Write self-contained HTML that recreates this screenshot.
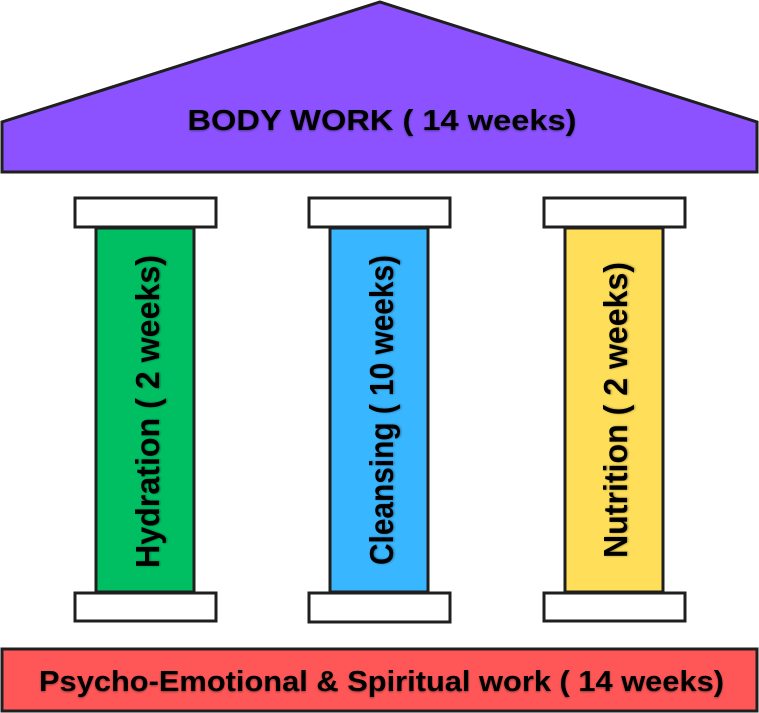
<!DOCTYPE html>
<html><head><meta charset="utf-8"><style>
html,body{margin:0;padding:0;background:#fff;}
svg{display:block;}
text{font-family:"Liberation Sans",Arial,sans-serif;font-weight:bold;fill:#000;}
</style></head><body>
<svg width="759" height="713" viewBox="0 0 759 713" xmlns="http://www.w3.org/2000/svg">
<defs><filter id="sh" x="-10%" y="-10%" width="120%" height="120%"><feGaussianBlur in="SourceAlpha" stdDeviation="1"/><feOffset dx="0" dy="1"/><feComponentTransfer><feFuncA type="linear" slope="0.4"/></feComponentTransfer><feMerge><feMergeNode/><feMergeNode in="SourceGraphic"/></feMerge></filter></defs>
<polygon points="380,2 757,122 757,172 2,172 2,122" fill="#8c52ff" stroke="#1f1f1f" stroke-width="3" stroke-linejoin="miter"/>
<text x="382" y="130" font-size="29" text-anchor="middle" textLength="389" lengthAdjust="spacingAndGlyphs" filter="url(#sh)">BODY WORK ( 14 weeks)</text>

<g stroke="#1f1f1f" stroke-width="3">
<rect x="75" y="198" width="141" height="29" fill="#fff"/>
<rect x="96" y="228" width="98" height="364" fill="#00bf63"/>
<rect x="75" y="593" width="141" height="28" fill="#fff"/>

<rect x="309" y="198" width="141" height="29" fill="#fff"/>
<rect x="330" y="228" width="98" height="364" fill="#38b6ff"/>
<rect x="309" y="593" width="141" height="29" fill="#fff"/>

<rect x="544" y="198" width="141" height="29" fill="#fff"/>
<rect x="565" y="228" width="98" height="364" fill="#ffde59"/>
<rect x="544" y="593" width="141" height="28" fill="#fff"/>
</g>

<text transform="translate(159,568) rotate(-90)" font-size="33" textLength="313" lengthAdjust="spacingAndGlyphs" filter="url(#sh)">Hydration ( 2 weeks)</text>
<text transform="translate(393,565) rotate(-90)" font-size="33" textLength="310" lengthAdjust="spacingAndGlyphs" filter="url(#sh)">Cleansing ( 10 weeks)</text>
<text transform="translate(627,558) rotate(-90)" font-size="33" textLength="296" lengthAdjust="spacingAndGlyphs" filter="url(#sh)">Nutrition ( 2 weeks)</text>

<rect x="2" y="649" width="755" height="62" fill="#ff5757" stroke="#1f1f1f" stroke-width="3"/>
<text x="39" y="691" font-size="29" textLength="685" lengthAdjust="spacingAndGlyphs" filter="url(#sh)">Psycho-Emotional &amp; Spiritual work ( 14 weeks)</text>
</svg>
</body></html>
